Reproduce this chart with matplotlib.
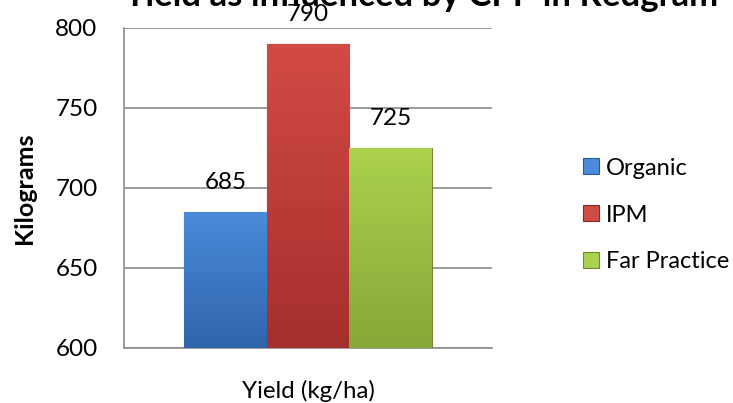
import matplotlib.pyplot as plt
import numpy as np
from matplotlib.colors import LinearSegmentedColormap

plt.rcParams['font.family'] = ['Lato', 'DejaVu Sans']

# data
categories = ["Yield (kg/ha)"]
series_names = ["Organic", "IPM", "Far Practice"]
series_values = [685, 790, 725]
y_ticks = [600, 650, 700, 750, 800]

title = "Yield as influenced by CPP in Redgram"
y_title = "Kilograms"

# (light, dark, edge) per series, Excel 2007 bevel look
palette = [
    ("#4A8BDA", "#3064AA", "#2A5A96"),
    ("#D24A46", "#A52F2C", "#8E2724"),
    ("#ABD14E", "#86A838", "#6E8A2C"),
]

fig = plt.figure(figsize=(7.33, 4.03), dpi=100)
ax = fig.add_axes([124 / 733, 1 - 348 / 403, 368 / 733, 320 / 403])

width = 1.0
offsets = (np.arange(len(series_names)) - 1) * width

for name, val, off, (light, dark, edge) in zip(series_names, series_values, offsets, palette):
    bars = ax.bar(off, val - y_ticks[0], width, bottom=y_ticks[0], color=light,
                  edgecolor=edge, linewidth=0.8, label=name, zorder=3)
    # vertical shading clipped to the bar
    cmap = LinearSegmentedColormap.from_list(name, [dark, light])
    for b in bars:
        x0, y0 = b.get_x(), b.get_y()
        grad = np.linspace(0, 1, 64).reshape(-1, 1)
        im = ax.imshow(grad, cmap=cmap, origin='lower', aspect='auto',
                       extent=(x0, x0 + b.get_width(), y0, y0 + b.get_height()),
                       zorder=3.5)
        im.set_clip_path(b)
    ax.bar_label(bars, labels=[str(val)], padding=13.5, fontsize=17.5, zorder=5)

ax.set_xlim(-2.226, 2.226)
ax.set_ylim(y_ticks[0], y_ticks[-1])
ax.set_yticks(y_ticks)
ax.set_xticks([0])
ax.set_xticklabels(categories)
ax.tick_params(axis='y', length=0, pad=19, labelsize=17.5)
ax.tick_params(axis='x', length=0, pad=23, labelsize=17.3)

ax.grid(axis='y', color='#8C8C8C', linewidth=1.2, zorder=0)
for side in ('top', 'right'):
    ax.spines[side].set_visible(False)
for side in ('left', 'bottom'):
    ax.spines[side].set_color('#8C8C8C')
    ax.spines[side].set_linewidth(1.2)

fig.text(421 / 733, 1 - 6 / 403, title, ha='center', va='baseline',
         fontsize=25, fontweight='bold')
fig.text(24 / 733, 1 - 188 / 403, y_title, rotation=90, ha='center', va='center',
         fontsize=18, fontweight='bold')

handles, labels = ax.get_legend_handles_labels()
fig.legend(handles, labels, loc='center left', bbox_to_anchor=(583 / 733, 1 - 215 / 403),
           frameon=False, fontsize=17, handlelength=0.68, handleheight=0.68,
           handletextpad=0.3, labelspacing=1.1, borderpad=0, borderaxespad=0)

fig.savefig('out.png', dpi=100)
